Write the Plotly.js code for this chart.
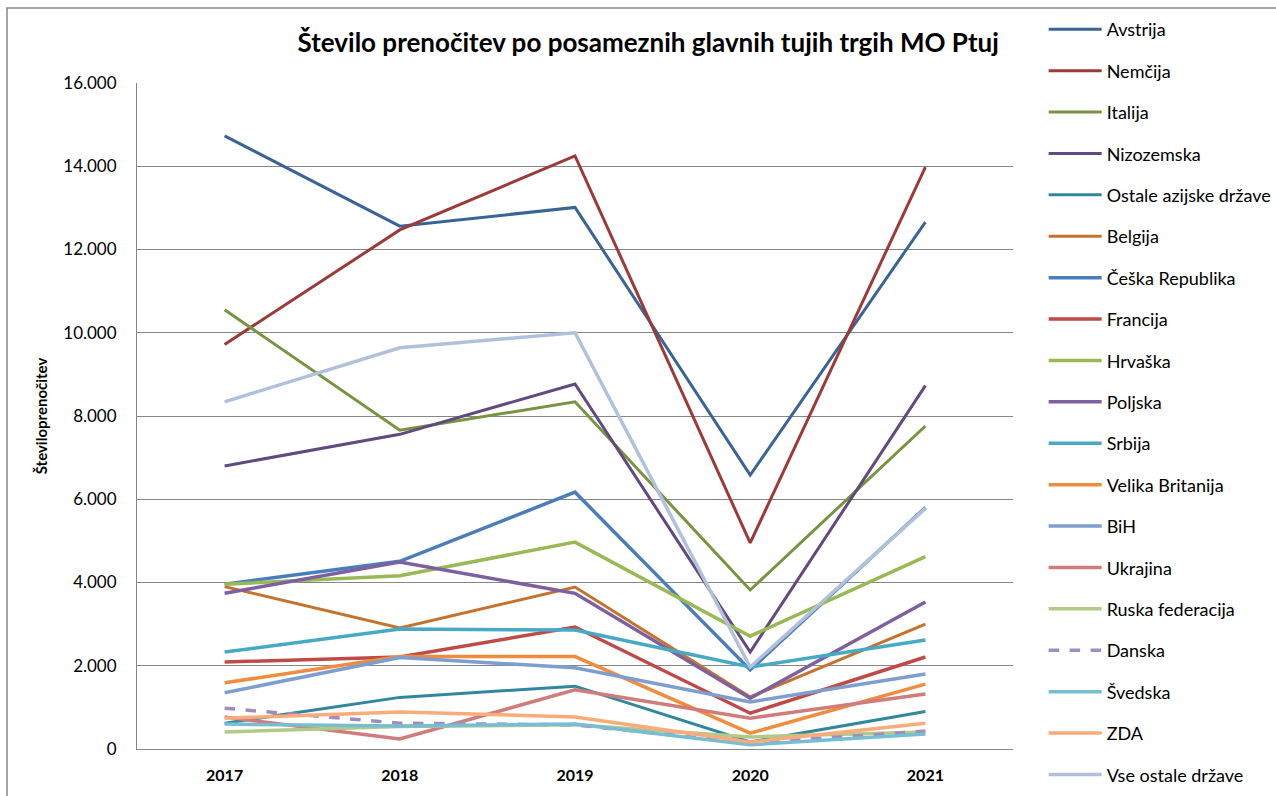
<!DOCTYPE html>
<html>
<head>
<meta charset="utf-8">
<script src="https://cdn.plot.ly/plotly-3.0.1.min.js"></script>
<style>
html,body{margin:0;padding:0;background:#fff;}
#chart{width:1276px;height:796px;}
</style>
</head>
<body>
<div id="chart"></div>
<script>
const years = ["2017", "2018", "2019", "2020", "2021"];

const countries = ["Avstrija", "Nemčija", "Italija", "Nizozemska", "Ostale azijske države", "Belgija",
  "Češka Republika", "Francija", "Hrvaška", "Poljska", "Srbija", "Velika Britanija",
  "BiH", "Ukrajina", "Ruska federacija", "Danska", "Švedska", "ZDA", "Vse ostale države"];

const avstrija   = [14730, 12560, 13010, 6580, 12660];
const nemcija    = [9720, 12470, 14250, 4950, 13980];
const italija    = [10550, 7660, 8340, 3820, 7760];
const nizozemska = [6800, 7560, 8770, 2330, 8730];
const ostaleAzijske = [620, 1240, 1510, 170, 900];
const belgija    = [3900, 2910, 3890, 1250, 3000];
const ceska      = [3960, 4510, 6170, 1900, 5800];
const francija   = [2090, 2210, 2930, 860, 2210];
const hrvaska    = [3960, 4160, 4970, 2710, 4620];
const poljska    = [3740, 4490, 3740, 1220, 3530];
const srbija     = [2330, 2880, 2860, 1970, 2620];
const velikaBritanija = [1590, 2220, 2220, 380, 1560];
const bih        = [1350, 2200, 1950, 1130, 1800];
const ukrajina   = [770, 240, 1420, 740, 1320];
const ruska      = [410, 540, 580, 290, 410];
const danska     = [980, 620, 580, 140, 430];
const svedska    = [600, 550, 600, 100, 360];
const zda        = [740, 890, 770, 170, 620];
const vseOstale  = [8340, 9640, 10000, 1970, 5780];

const seriesValues = [avstrija, nemcija, italija, nizozemska, ostaleAzijske, belgija,
  ceska, francija, hrvaska, poljska, srbija, velikaBritanija,
  bih, ukrajina, ruska, danska, svedska, zda, vseOstale];

const colors = ["#3A6496", "#9C3A38", "#779441", "#62497F", "#31879E", "#C6722D",
  "#4A7EBB", "#BE4B48", "#98B954", "#7D60A0", "#46AAC5", "#F08C3E",
  "#7D9ECF", "#CF7C7A", "#B2CA88", "#A08DBE", "#77BED3", "#F9AB7A", "#B1C1DC"];

const yTicks = [0, 2000, 4000, 6000, 8000, 10000, 12000, 14000, 16000];

const FONT = "Lato, 'Open Sans', sans-serif";

const traces = countries.map((name, i) => ({
  type: "scatter",
  mode: "lines",
  name: name,
  x: years,
  y: seriesValues[i],
  legendgroup: "g" + i,
  line: {
    color: colors[i],
    width: i < 6 ? 3 : 3.5,
    dash: name === "Danska" ? "dash" : "solid"
  },
  hoverinfo: "x+y+name"
}));

const layout = {
  width: 1276,
  height: 796,
  margin: {l: 137, r: 263, t: 83, b: 47, autoexpand: false},
  paper_bgcolor: "#ffffff",
  plot_bgcolor: "#ffffff",
  separators: ",.",
  font: {family: FONT, color: "#000000", size: 16},
  title: {
    text: "Število prenočitev po posameznih glavnih tujih trgih MO Ptuj",
    font: {family: FONT, size: 26, color: "#000000", weight: "bold"},
    x: 0.508, xref: "container", xanchor: "center",
    y: 0.946, yref: "container", yanchor: "middle"
  },
  showlegend: true,
  legend: {
    x: 1.035, xanchor: "left",
    y: 1.108, yanchor: "top",
    maxheight: 790,
    itemwidth: 53,
    font: {family: FONT, size: 18, color: "#000000"},
    tracegroupgap: 15,
    traceorder: "grouped",
    bgcolor: "rgba(0,0,0,0)"
  },
  xaxis: {
    type: "category",
    range: [-0.5, 4.5],
    showgrid: false,
    showline: true,
    linecolor: "#868686",
    linewidth: 1,
    ticks: "",
    tickfont: {family: FONT, size: 16, color: "#000000", weight: "bold"},
    ticklabelstandoff: 12,
    zeroline: false,
    fixedrange: true
  },
  yaxis: {
    range: [0, 16000],
    tickvals: yTicks,
    tickformat: ",d",
    showgrid: true,
    gridcolor: "#868686",
    gridwidth: 1,
    showline: true,
    linecolor: "#868686",
    linewidth: 1,
    zeroline: false,
    ticks: "",
    ticklabelstandoff: 16,
    tickfont: {family: FONT, size: 17, color: "#000000"},
    title: {
      text: "Številoprenočitev",
      font: {family: FONT, size: 15, color: "#000000", weight: "bold"},
      standoff: 12
    },
    fixedrange: true
  },
  shapes: [{
    type: "rect",
    xref: "paper", yref: "paper",
    x0: (7 - 137) / 876, x1: 1.6,
    y0: -0.2, y1: 1 + 75 / 666,
    line: {color: "#868686", width: 1.5},
    fillcolor: "rgba(0,0,0,0)",
    layer: "below"
  }]
};

Plotly.newPlot("chart", traces, layout, {displayModeBar: false, staticPlot: true});
</script>
</body>
</html>
